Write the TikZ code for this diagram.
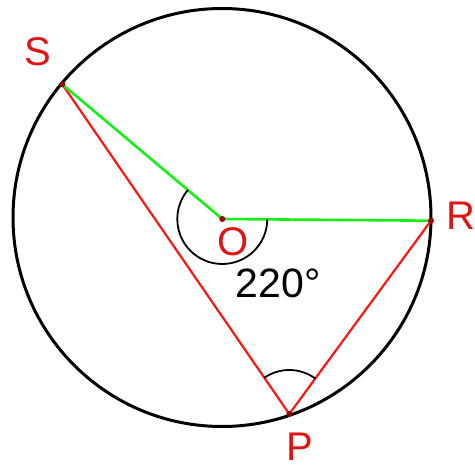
\documentclass[tikz,border=0pt]{standalone}
\usepackage{fontspec}
\setmainfont{Liberation Sans}
\definecolor{dotred}{RGB}{150,0,0}
\definecolor{linered}{RGB}{255,20,20}
\definecolor{linegreen}{RGB}{20,240,20}
\definecolor{labred}{RGB}{225,20,20}
\begin{document}
\begin{tikzpicture}[x=1pt,y=-1pt,
  circ/.style={draw=black,line width=3pt},
  chord/.style={draw=linered,line width=2.2pt},
  radius line/.style={draw=linegreen,line width=2.6pt},
  anglearc/.style={draw=black,line width=1.8pt},
  dotpt/.style={circle,fill=dotred,inner sep=0pt,minimum size=6pt},
  lab/.style={text=labred,inner sep=0pt,font=\fontsize{40}{40}\selectfont},
  numlab/.style={text=black,inner sep=0pt,font=\fontsize{41}{41}\selectfont}]
\useasboundingbox (0,0) rectangle (475,466);
\coordinate (C) at (222,217.5);
\draw[circ] (C) circle[radius=209];
\coordinate (S) at (62.3,84.3);
\coordinate (O) at (222.3,219);
\coordinate (R) at (431,220.7);
\coordinate (P) at (289.3,414);
% chords
\draw[chord] (S) -- (P) -- (R);
% radii
\draw[radius line] (S) -- (O) -- (R);
% angle arcs (screen angles, y downwards)
\draw[anglearc] ([shift={(0.47:45)}]O) arc[start angle=0.47,end angle=220.1,radius=45];
\draw[anglearc] ([shift={(235.5:44)}]P) arc[start angle=235.5,end angle=306.3,radius=44];
% dots
\node[dotpt] (dS) at (S) {};
\node[dotpt] (dO) at (O) {};
\node[dotpt] (dR) at (R) {};
\node[dotpt] (dP) at (P) {};
% labels
\node[lab] (lS) at (38,51.5) {S};
\node[lab] (lO) at (233.5,242) {O};
\node[lab] (lR) at (460.5,216) {R};
\node[lab] (lP) at (299.5,447) {P};
\node[numlab,anchor=west] (lang) at (235.5,283.3) {220°};
\end{tikzpicture}
\end{document}
